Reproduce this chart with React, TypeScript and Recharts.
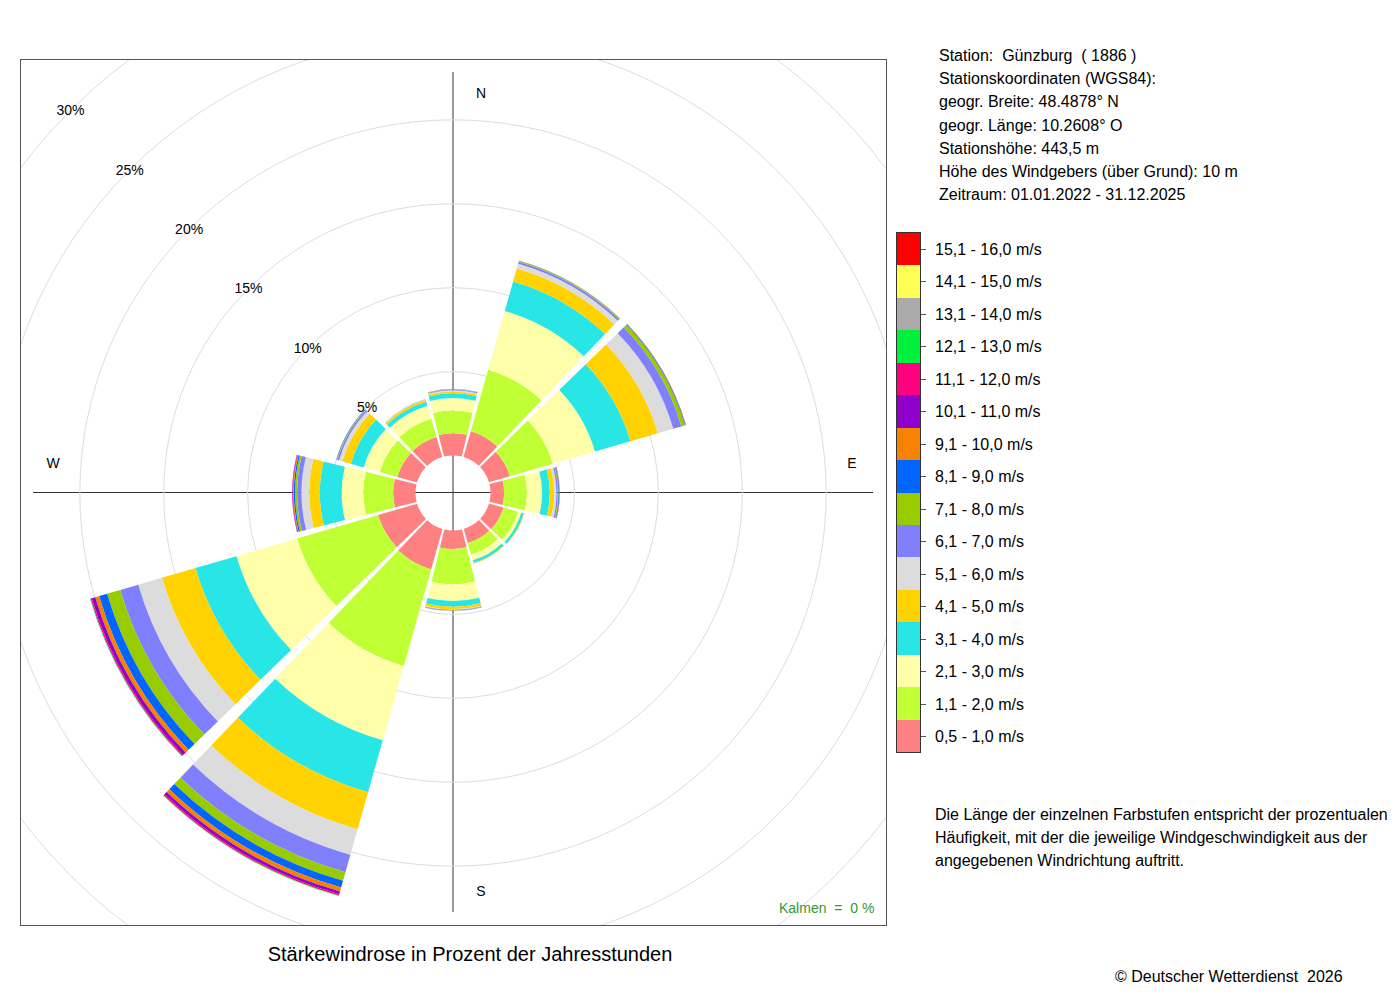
import React from 'react';
import {
  RadialBarChart,
  RadialBar,
  PolarAngleAxis,
  PolarRadiusAxis,
  PolarGrid,
} from 'recharts';

// ============================================================================
// DATA (percent of annual hours, per direction sector and speed class)
// ============================================================================
const directions = ['0°', '30°', '60°', '90°', '120°', '150°', '180°', '210°', '240°', '270°', '300°', '330°'];

const speedClasses = [
  '0,5 - 1,0 m/s', '1,1 - 2,0 m/s', '2,1 - 3,0 m/s', '3,1 - 4,0 m/s',
  '4,1 - 5,0 m/s', '5,1 - 6,0 m/s', '6,1 - 7,0 m/s', '7,1 - 8,0 m/s',
  '8,1 - 9,0 m/s', '9,1 - 10,0 m/s', '10,1 - 11,0 m/s', '11,1 - 12,0 m/s',
  '12,1 - 13,0 m/s', '13,1 - 14,0 m/s', '14,1 - 15,0 m/s', '15,1 - 16,0 m/s',
];

const classColors = [
  '#ff8080', '#bfff33', '#ffffaa', '#29e6e6',
  '#ffd200', '#dcdcdc', '#8080ff', '#99cc00',
  '#0066ff', '#f58200', '#9000cc', '#ff0080',
  '#00f03c', '#aaaaaa', '#ffff55', '#ff0000',
];

const freq000 = [1.33, 1.35, 0.74, 0.29, 0.10, 0.07, 0.05, 0.02, 0.01, 0, 0, 0, 0, 0, 0, 0];
const freq030 = [1.60, 3.80, 3.64, 1.83, 0.80, 0.30, 0.12, 0.04, 0.02, 0.01, 0, 0, 0, 0, 0, 0];
const freq060 = [1.30, 2.67, 2.61, 2.20, 1.70, 0.96, 0.50, 0.22, 0.04, 0.02, 0.01, 0, 0, 0, 0, 0];
const freq090 = [0.81, 1.36, 0.90, 0.46, 0.26, 0.14, 0.08, 0.05, 0.04, 0.02, 0.01, 0, 0, 0, 0, 0];
const freq120 = [0.90, 0.90, 0.20, 0.15, 0.04, 0.02, 0, 0, 0, 0, 0, 0, 0, 0, 0, 0];
const freq150 = [0.88, 0.72, 0.35, 0.17, 0.03, 0.01, 0, 0, 0, 0, 0, 0, 0, 0, 0, 0];
const freq180 = [1.10, 2.10, 1.00, 0.34, 0.15, 0.05, 0.03, 0.02, 0.01, 0, 0, 0, 0, 0, 0, 0];
const freq210 = [2.50, 5.99, 4.59, 3.22, 2.29, 1.58, 1.08, 0.53, 0.42, 0.24, 0.18, 0.08, 0.03, 0.01, 0.01, 0];
const freq240 = [2.42, 5.02, 3.76, 2.55, 2.08, 1.47, 1.12, 0.81, 0.50, 0.24, 0.21, 0.08, 0.03, 0.01, 0, 0];
const freq270 = [1.33, 1.78, 1.29, 1.30, 0.63, 0.46, 0.26, 0.12, 0.08, 0.05, 0.03, 0.02, 0, 0, 0, 0];
const freq300 = [1.22, 1.08, 1.00, 0.80, 0.53, 0.20, 0.10, 0.04, 0.02, 0, 0, 0, 0, 0, 0, 0];
const freq330 = [1.25, 1.13, 0.80, 0.25, 0.12, 0.03, 0.02, 0, 0, 0, 0, 0, 0, 0, 0, 0];

const radiusTicks = [5, 10, 15, 20, 25, 30];

const stationInfo = [
  'Station:  Günzburg  ( 1886 )',
  'Stationskoordinaten (WGS84):',
  'geogr. Breite: 48.4878° N',
  'geogr. Länge: 10.2608° O',
  'Stationshöhe: 443,5 m',
  'Höhe des Windgebers (über Grund): 10 m',
  'Zeitraum: 01.01.2022 - 31.12.2025',
];

const noteLines = [
  'Die Länge der einzelnen Farbstufen entspricht der prozentualen',
  'Häufigkeit, mit der die jeweilige Windgeschwindigkeit aus der',
  'angegebenen Windrichtung auftritt.',
];

const allFreqs = [freq000, freq030, freq060, freq090, freq120, freq150, freq180, freq210, freq240, freq270, freq300, freq330];

const data = directions.map((dir, i) => {
  const row: Record<string, any> = { dir };
  allFreqs[i].forEach((v, k) => {
    row['c' + k] = v;
  });
  return row;
});

// ============================================================================
// SHAPES / TICKS
// ============================================================================
const FONT = '"Liberation Sans", Arial, Helvetica, sans-serif';
const RAD = Math.PI / 180;
const HALF_GAP = 0.25;

const pt = (cx: number, cy: number, r: number, a: number) =>
  `${cx + r * Math.cos(-a * RAD)},${cy + r * Math.sin(-a * RAD)}`;

// sector with a small extra parallel offset to its neighbours
const GapSector = (props: any) => {
  const { cx, cy, innerRadius, outerRadius, startAngle, endAngle, fill } = props;
  if (!(outerRadius - innerRadius > 0.02)) return <g />;
  const lo = Math.min(startAngle, endAngle);
  const hi = Math.max(startAngle, endAngle);
  const off = (r: number) => Math.asin(Math.min(1, HALF_GAP / r)) / RAD;
  const d =
    `M${pt(cx, cy, outerRadius, lo + off(outerRadius))}` +
    ` A${outerRadius},${outerRadius} 0 0 0 ${pt(cx, cy, outerRadius, hi - off(outerRadius))}` +
    ` L${pt(cx, cy, innerRadius, hi - off(innerRadius))}` +
    ` A${innerRadius},${innerRadius} 0 0 1 ${pt(cx, cy, innerRadius, lo + off(innerRadius))} Z`;
  return <path d={d} fill={fill} stroke="none" />;
};

const RadiusTick = (props: any) => {
  const { x, y, payload } = props;
  return (
    <text x={x} y={y} textAnchor="middle" dominantBaseline="central" fontSize={14} fontFamily={FONT} fill="#000">
      {payload.value}%
    </text>
  );
};

const abs = (left: number, top: number, extra: React.CSSProperties = {}): React.CSSProperties => ({
  position: 'absolute',
  left,
  top,
  ...extra,
});

// ============================================================================
// APP
// ============================================================================
const App: React.FC = () => {
  return (
    <div style={{ position: 'absolute', left: 0, top: 0, width: 1400, height: 1000, background: '#fff', fontFamily: FONT, color: '#000' }}>
      {/* cross hairs under the rose */}
      <div style={abs(452, 72, { width: 1.5, height: 840, background: '#999' })} />
      <div style={abs(33, 492, { width: 840, height: 1, background: '#333' })} />

      {/* compass letters */}
      <div style={abs(481, 93, { fontSize: 14, transform: 'translate(-50%,-50%)' })}>N</div>
      <div style={abs(852, 463, { fontSize: 14, transform: 'translate(-50%,-50%)' })}>E</div>
      <div style={abs(481, 891, { fontSize: 14, transform: 'translate(-50%,-50%)' })}>S</div>
      <div style={abs(53, 463, { fontSize: 14, transform: 'translate(-50%,-50%)' })}>W</div>

      <div style={abs(20, 59, { width: 867, height: 867, border: '1px solid #555', boxSizing: 'border-box', overflow: 'hidden' })}>
        <div style={abs(-1, -1)}>
          <RadialBarChart
            width={866}
            height={866}
            data={data}
            layout="centric"
            cx={433}
            cy={434}
            innerRadius={37.5}
            outerRadius={541}
            startAngle={75}
            endAngle={-285}
            barCategoryGap="4%"
            margin={{ top: 0, right: 0, bottom: 0, left: 0 }}
          >
            <PolarGrid gridType="circle" radialLines={false} stroke="#dcdcdc" />
            <PolarAngleAxis type="category" dataKey="dir" tick={false} axisLine={false} tickLine={false} />
            <PolarRadiusAxis
              type="number"
              domain={[0, 30]}
              ticks={radiusTicks}
              angle={135}
              axisLine={false}
              tickLine={false}
              tick={<RadiusTick />}
              allowDataOverflow
            />
            {speedClasses.map((name, k) => (
              <RadialBar
                key={name}
                name={name}
                dataKey={'c' + k}
                stackId="rose"
                fill={classColors[k]}
                shape={<GapSector />}
                isAnimationActive={false}
              />
            ))}
          </RadialBarChart>
        </div>
        <div style={abs(758, 840, { fontSize: 14, color: '#339933', whiteSpace: 'pre' })}>Kalmen  =  0 %</div>
      </div>

      {/* title */}
      <div style={abs(470, 954, { fontSize: 20, transform: 'translate(-50%,-50%)', whiteSpace: 'nowrap' })}>
        Stärkewindrose in Prozent der Jahresstunden
      </div>

      {/* station info */}
      <div style={abs(939, 44, { fontSize: 16, lineHeight: '23.2px', whiteSpace: 'pre' })}>
        {stationInfo.map((l) => (
          <div key={l}>{l}</div>
        ))}
      </div>

      {/* legend */}
      <div style={abs(896, 232, { width: 25, height: 521, border: '1px solid #333', boxSizing: 'border-box' })}>
        {speedClasses
          .map((_, k) => 15 - k)
          .map((k) => (
            <div key={k} style={{ height: 519 / 16, background: classColors[k] }} />
          ))}
      </div>
      {speedClasses
        .map((_, k) => 15 - k)
        .map((k, i) => (
          <React.Fragment key={k}>
            <div style={abs(921, 248.5 + i * 32.5, { width: 5, height: 1, background: '#555' })} />
            <div style={abs(935, 249.75 + i * 32.5, { fontSize: 16, transform: 'translateY(-50%)', whiteSpace: 'nowrap' })}>
              {speedClasses[k]}
            </div>
          </React.Fragment>
        ))}

      {/* note */}
      <div style={abs(935, 803, { fontSize: 16, lineHeight: '23px', whiteSpace: 'nowrap' })}>
        {noteLines.map((l) => (
          <div key={l}>{l}</div>
        ))}
      </div>

      <div style={abs(1115, 968, { fontSize: 16, whiteSpace: 'pre' })}>© Deutscher Wetterdienst  2026</div>
    </div>
  );
};

export default App;
